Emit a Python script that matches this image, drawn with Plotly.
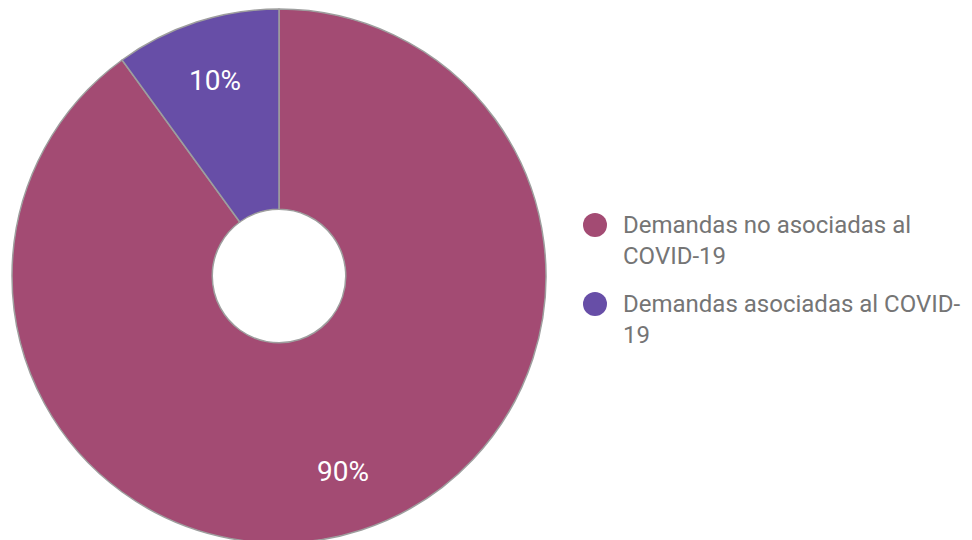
import math
import plotly.graph_objects as go

labels = ["Demandas no asociadas al COVID-19", "Demandas asociadas al COVID-19"]
legend_text = ["Demandas no asociadas al<br>COVID-19", "Demandas asociadas al COVID-<br>19"]
values = [90, 10]
colors = ["#A34B73", "#674EA7"]

W, H = 972, 540
OFF = 8  # page body margin

fig = go.Figure()
cx, cy0, R = 279 - OFF, 276 - OFF, 267
fig.add_trace(go.Pie(
    labels=labels,
    values=values,
    sort=False,
    direction="clockwise",
    rotation=0,
    hole=0.25,
    marker=dict(colors=colors, line=dict(color="#9E9E9E", width=1.5)),
    textinfo="none",
    showlegend=False,
    domain=dict(x=[(cx - R) / W, (cx + R) / W], y=[1 - (cy0 + R) / H, 1 - (cy0 - R) / H]),
    hoverinfo="label+percent",
))

# percentage labels placed at slice mid-angles
total = sum(values)
cum = 0
r_lab = 0.77 * R
for v in values:
    frac = (cum + v / 2) / total
    th = 2 * math.pi * frac
    px = cx + r_lab * math.sin(th)
    py = cy0 - r_lab * math.cos(th)
    fig.add_annotation(xref="paper", yref="paper", x=px / W, y=1 - py / H,
                       xanchor="center", yanchor="middle", showarrow=False,
                       text=f"{round(100 * v / total)}%",
                       font=dict(family="Roboto", size=28, color="#FFFFFF"))
    cum += v

# custom legend with circular markers
legend_y = [225 - OFF, 304 - OFF]
for i, (txt, col) in enumerate(zip(legend_text, colors)):
    cy = legend_y[i]
    mx = 595 - OFF
    fig.add_shape(type="circle", xref="paper", yref="paper",
                  x0=(mx - 12) / W, x1=(mx + 12) / W,
                  y0=1 - (cy + 12) / H, y1=1 - (cy - 12) / H,
                  fillcolor=col, line=dict(width=0))
    fig.add_annotation(xref="paper", yref="paper",
                       x=(621 - OFF) / W, y=1 - (cy - 16) / H,
                       xanchor="left", yanchor="top", align="left",
                       text=txt, showarrow=False,
                       font=dict(family="Roboto", size=24, color="#757575"))

fig.update_layout(
    width=W, height=H,
    margin=dict(l=0, r=0, t=0, b=0),
    paper_bgcolor="white",
    plot_bgcolor="white",
)

fig.write_html("out.html")
